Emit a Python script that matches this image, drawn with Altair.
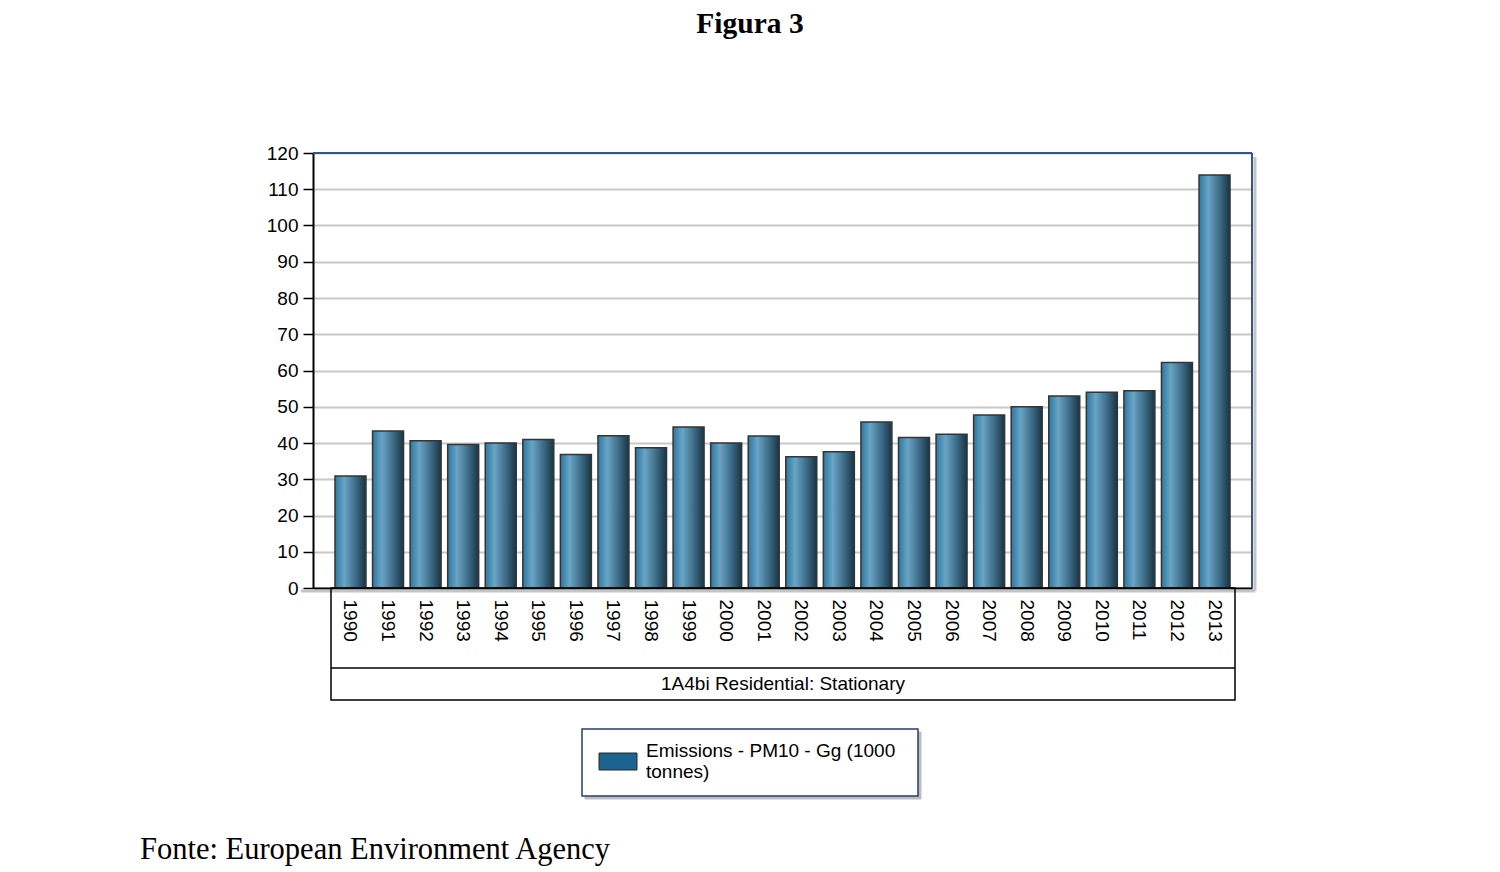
import altair as alt
import pandas as pd

# ---- data ----
years = ["1990", "1991", "1992", "1993", "1994", "1995", "1996", "1997",
         "1998", "1999", "2000", "2001", "2002", "2003", "2004", "2005",
         "2006", "2007", "2008", "2009", "2010", "2011", "2012", "2013"]
values = [30.9, 43.3, 40.6, 39.6, 40.0, 41.0, 36.8, 42.0,
          38.7, 44.4, 40.0, 41.9, 36.2, 37.6, 45.8, 41.5,
          42.4, 47.7, 50.0, 53.0, 54.0, 54.4, 62.2, 113.9]
y_ticks = [0, 10, 20, 30, 40, 50, 60, 70, 80, 90, 100, 110, 120]
title_text = "Figura 3"
source_text = "Fonte: European Environment Agency"
category_text = "1A4bi Residential: Stationary"
legend_lines = ["Emissions - PM10 - Gg (1000", "tonnes)"]

df = pd.DataFrame({"year": years, "value": values})
one = pd.DataFrame({"k": [0]})

W, H = 939, 435
SANS = "Liberation Sans"
SERIF = "Liberation Serif"

grad = alt.LinearGradient(
    gradient="linear", x1=0, x2=1, y1=0, y2=0,
    stops=[
        alt.GradientStop(color="#2a78a3", offset=0),
        alt.GradientStop(color="#6aa4c4", offset=0.3),
        alt.GradientStop(color="#3e6e8a", offset=0.65),
        alt.GradientStop(color="#1a3443", offset=1),
    ],
)

bars = alt.Chart(df).mark_bar(fill=grad, stroke="#353535", strokeWidth=1.5).encode(
    x=alt.X("year:N", sort=years,
            scale=alt.Scale(paddingInner=0.175, paddingOuter=0.585),
            axis=alt.Axis(title=None, labelAngle=90, labelFont=SANS, labelFontSize=19,
                          labelColor="black", ticks=False, labelPadding=11,
                          labelAlign="left", labelBaseline="middle",
                          domainColor="black", domainWidth=2, grid=False)),
    y=alt.Y("value:Q", scale=alt.Scale(domain=[0, 120], nice=False),
            axis=alt.Axis(title=None, values=y_ticks, labelFont=SANS, labelFontSize=19,
                          labelColor="black", tickSize=10, tickColor="black", tickWidth=1.5,
                          labelPadding=5, domainColor="black", domainWidth=2,
                          grid=True, gridColor="#c8c8c8", gridWidth=2)),
)

def rule(x, x2, y, y2, color, width):
    return alt.Chart(one).mark_rule(color=color, strokeWidth=width).encode(
        x=alt.value(x), x2=alt.value(x2), y=alt.value(y), y2=alt.value(y2))

def rect(x, x2, y, y2, fill, stroke, width=1.5):
    return alt.Chart(one).mark_rect(fill=fill, stroke=stroke, strokeWidth=width).encode(
        x=alt.value(x), x2=alt.value(x2), y=alt.value(y), y2=alt.value(y2))

def text(t, x, y, size, font, align="left", baseline="middle", weight="normal"):
    return alt.Chart(one).mark_text(text=t, font=font, fontSize=size, fontWeight=weight,
                                    align=align, baseline=baseline, color="black").encode(
        x=alt.value(x), y=alt.value(y))

# plot frame: shadow, top and right borders
shadow_r = rule(W + 3, W + 3, 4, H + 3, "#c4c4c4", 3)
shadow_b = rule(-12, W + 3, H + 3, H + 3, "#c4c4c4", 3)
top_border = rule(0, W, 0, 0, "#34558a", 2)
right_border = rule(W, W, 0, H, "#34558a", 2)

# category box below the axis
cat_box = rect(18, 922, H, 547, "transparent", "black", 1.5)
cat_sep = rule(18, 922, 515, 515, "black", 1.5)
cat_label = text(category_text, 470, 531, 19, SANS, align="center")

# legend
leg_shadow = rect(272, 608, 579, 646, "#bdbdbd", "#bdbdbd", 1)
leg_box = rect(269, 605, 576, 643, "white", "#22406e", 1.5)
leg_swatch = rect(286, 324, 600, 617, "#1b6391", "#2a2a2a", 1)
leg_l1 = text(legend_lines[0], 333, 598, 19, SANS)
leg_l2 = text(legend_lines[1], 333, 619, 19, SANS)

title = text(title_text, 437, -120, 29.5, SERIF, align="center", baseline="alphabetic", weight="bold")
source = text(source_text, -173, 706, 30.5, SERIF, baseline="alphabetic")

chart = alt.layer(
    bars, shadow_r, shadow_b, top_border, right_border,
    cat_box, cat_sep, cat_label,
    leg_shadow, leg_box, leg_swatch, leg_l1, leg_l2,
    title, source,
).properties(
    width=W, height=H,
    autosize=alt.AutoSizeParams(type="none"),
    padding={"left": 305, "top": 145, "right": 240, "bottom": 280},
    background="white",
).configure_view(strokeWidth=0)

chart.save("out.html", embed_options={"renderer": "svg", "actions": False})
